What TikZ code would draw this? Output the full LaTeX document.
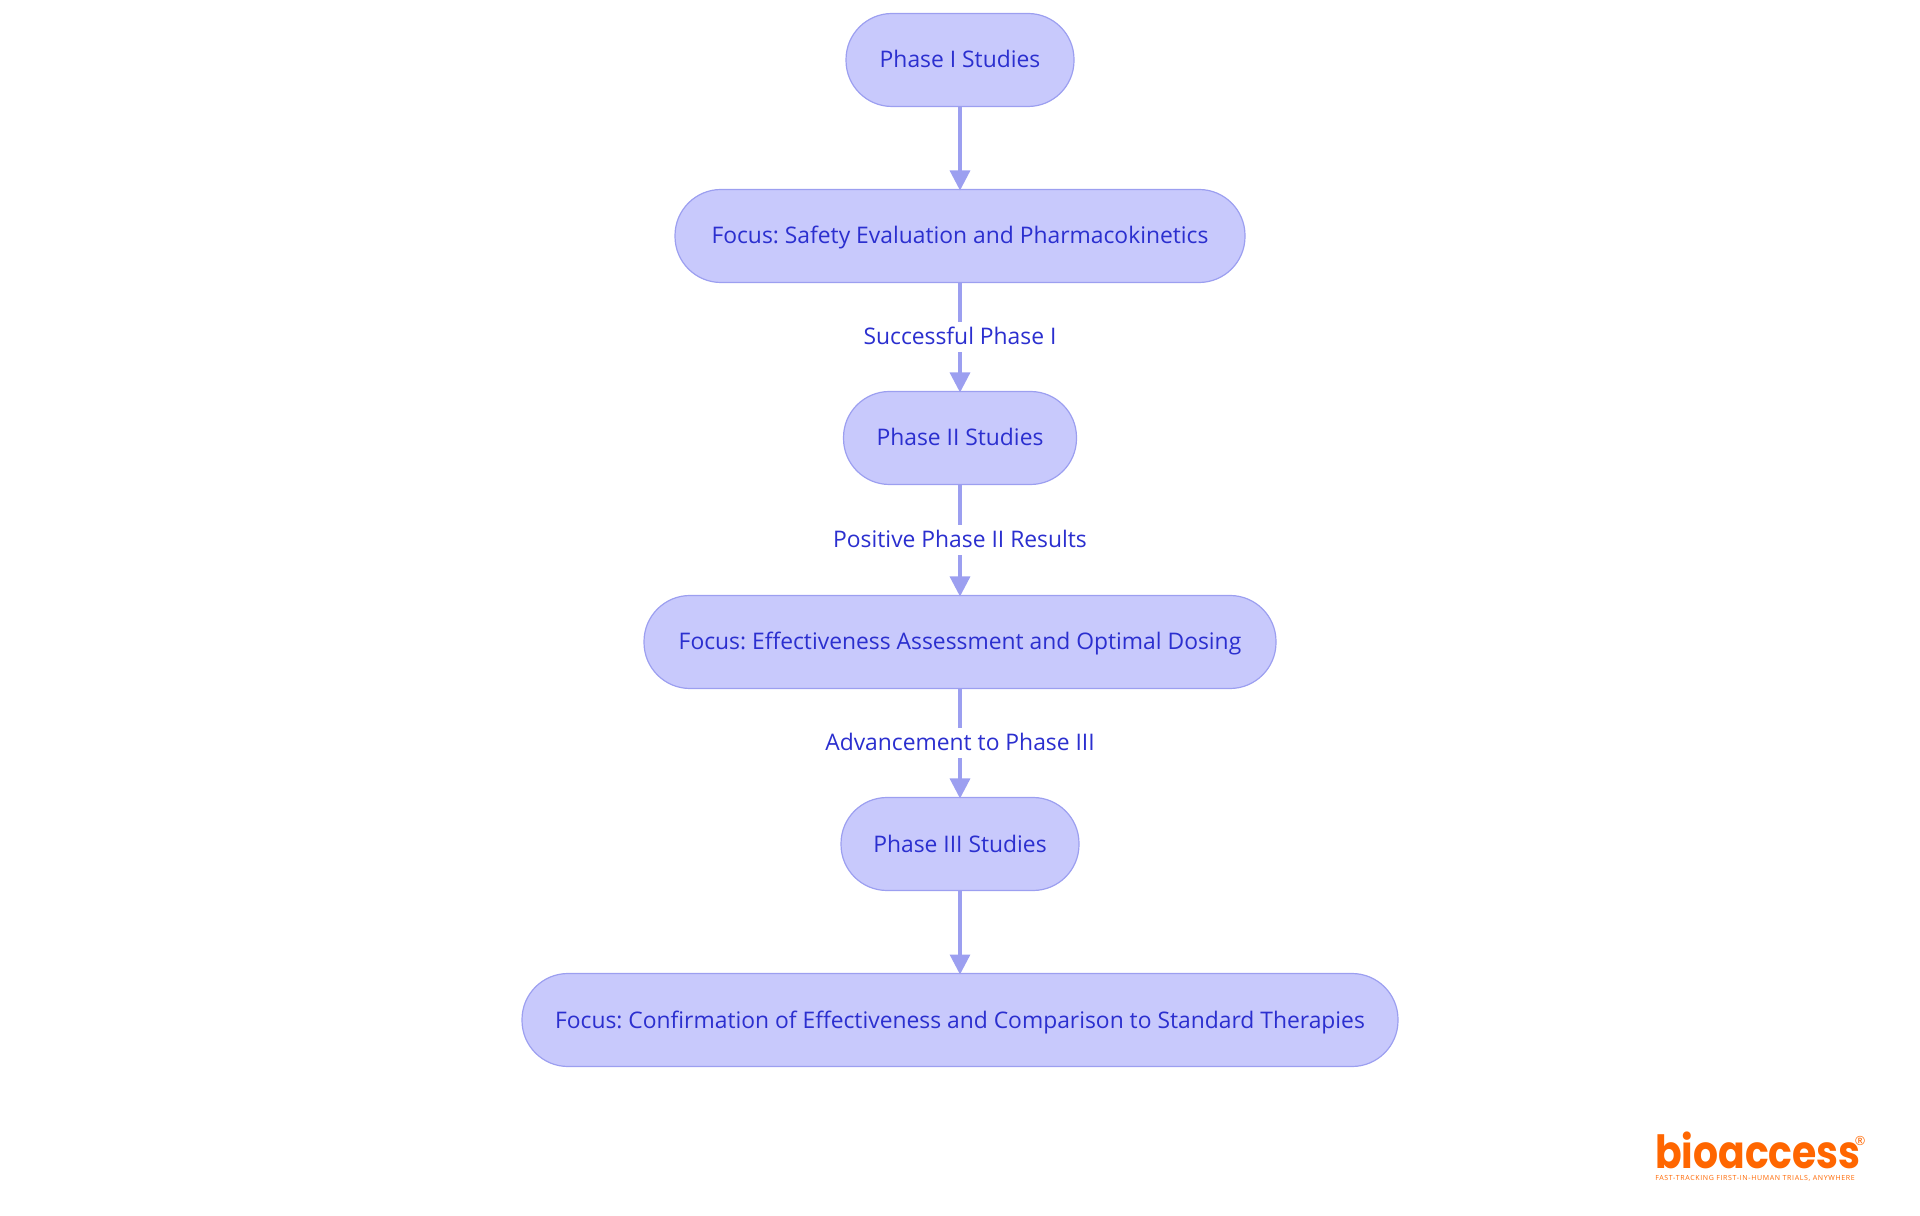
\documentclass[tikz,border=0pt]{standalone}
\usepackage{fontspec}
\setmainfont{Open Sans}
\newfontfamily\logofont{Poppins}
\newfontfamily\tagfont[LetterSpace=9]{Open Sans}
\usetikzlibrary{arrows.meta}
\definecolor{boxfill}{HTML}{C8C9FC}
\definecolor{boxline}{HTML}{9C9FF0}
\definecolor{boxtext}{HTML}{2B2FCF}
\definecolor{logoorange}{HTML}{FF6600}
\frenchspacing
\begin{document}
\begin{tikzpicture}[inner sep=0pt,outer sep=0pt,
phasebox/.style={draw=boxline,fill=boxfill,text=boxtext,rectangle,rounded corners=0.46cm,minimum height=0.93cm,line width=0.012cm,text height=0.18cm,text depth=0.02cm,font=\fontsize{6.5}{8}\selectfont},
flowline/.style={draw=boxline,line width=0.032cm,shorten >=-0.01cm,-{Triangle[length=0.2cm,width=0.2cm]}},
edgelabel/.style={fill=white,text=boxtext,inner xsep=1pt,inner ysep=0.05cm,text height=0.18cm,text depth=0.02cm,font=\fontsize{6.5}{8}\selectfont}]
\useasboundingbox (0,0) rectangle (19.2,12.15);
\draw (9.6,11.55) node[phasebox,minimum width=2.28cm] (phase1) {Phase I Studies};
\draw (9.6,9.79) node[phasebox,minimum width=5.70cm] (focus1) {Focus: Safety Evaluation and Pharmacokinetics};
\draw (9.6,7.77) node[phasebox,minimum width=2.33cm] (phase2) {Phase II Studies};
\draw (9.6,5.73) node[phasebox,minimum width=6.32cm] (focus2) {Focus: Effectiveness Assessment and Optimal Dosing};
\draw (9.6,3.71) node[phasebox,minimum width=2.38cm] (phase3) {Phase III Studies};
\draw (9.6,1.95) node[phasebox,minimum width=8.76cm] (focus3) {Focus: Confirmation of Effectiveness and Comparison to Standard Therapies};
\draw[flowline] (phase1) -- (focus1);
\draw[flowline] (focus1) -- node[edgelabel] (label1) {Successful Phase I} (phase2);
\draw[flowline] (phase2) -- node[edgelabel] (label2) {Positive Phase II Results} (focus2);
\draw[flowline] (focus2) -- node[edgelabel] (label3) {Advancement to Phase III} (phase3);
\draw[flowline] (phase3) -- (focus3);
% logo
\draw (16.55,0.47) node[anchor=base west,xscale=0.86,text=logoorange,font=\logofont\bfseries\fontsize{13}{13}\selectfont] (logo) {bioaccess};
\draw (18.60,0.74) node[text=logoorange,font=\fontsize{3.6}{4}\selectfont] (logomark) {®};
\draw (17.55,0.37) node[text=logoorange,font=\tagfont\fontsize{2}{2}\selectfont] (tagline) {FAST-TRACKING FIRST-IN-HUMAN TRIALS, ANYWHERE};
\end{tikzpicture}
\end{document}
